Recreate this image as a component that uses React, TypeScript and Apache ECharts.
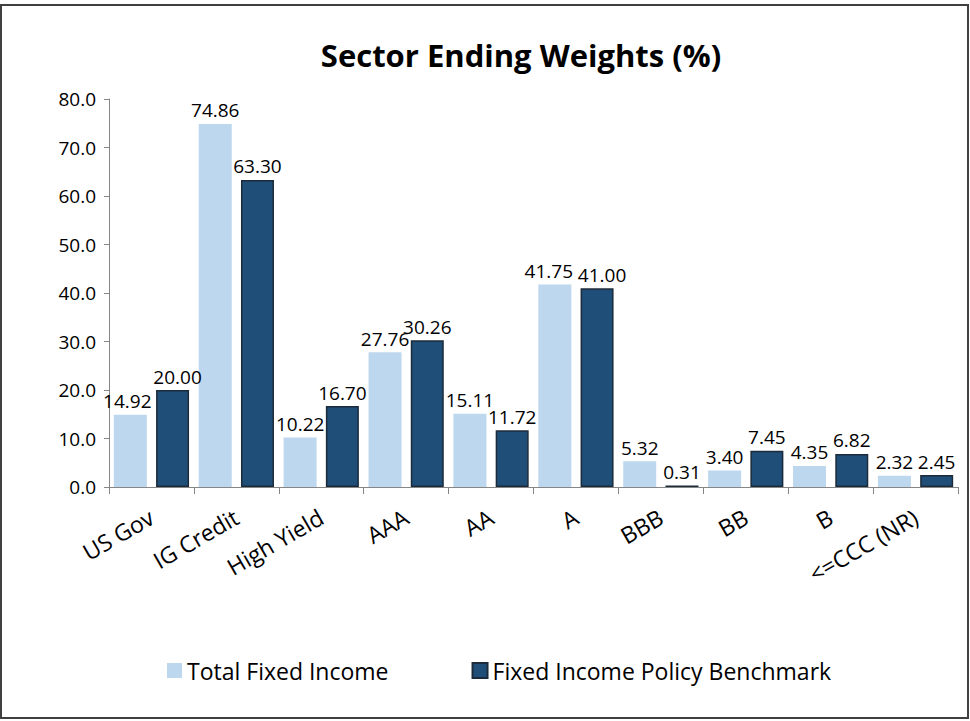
import React, { useEffect, useRef } from "react";
import * as echarts from "echarts";

const categories = ["US Gov", "IG Credit", "High Yield", "AAA", "AA", "A", "BBB", "BB", "B", "<=CCC (NR)"];
const totalFixedIncome = [14.92, 74.86, 10.22, 27.76, 15.11, 41.75, 5.32, 3.4, 4.35, 2.32];
const policyBenchmark = [20.0, 63.3, 16.7, 30.26, 11.72, 41.0, 0.31, 7.45, 6.82, 2.45];
const seriesNames = ["Total Fixed Income", "Fixed Income Policy Benchmark"];
const titleText = "Sector Ending Weights (%)";

const FONT = "'Open Sans', sans-serif";

// horizontal nudges of a few data labels (Excel pushes colliding labels apart)
const lightLabelShift: Record<number, number> = { 0: -3, 5: -6 };
const darkLabelShift: Record<number, number> = { 0: 5, 5: 5 };

function withShift(values: number[], shift: Record<number, number>) {
  return values.map((v, i) =>
    shift[i] !== undefined ? { value: v, label: { offset: [shift[i], 0] } } : v
  );
}

export default function App() {
  const ref = useRef<HTMLDivElement>(null);
  useEffect(() => {
    if (!ref.current) return;
    const chart = echarts.init(ref.current, null, { renderer: "svg" });
    const labelCfg = {
      show: true,
      position: "top",
      distance: 4,
      color: "#000",
      fontFamily: FONT,
      fontSize: 19,
      formatter: (p: any) => Number(p.value).toFixed(2),
    };
    chart.setOption({
      animation: false,
      backgroundColor: "#fff",
      title: {
        text: titleText,
        left: 516,
        top: 34,
        textAlign: "center",
        textStyle: { fontFamily: FONT, fontSize: 31, fontWeight: "bold", color: "#000" },
      },
      graphic: [
        {
          type: "rect",
          shape: { x: 1, y: 5, width: 967, height: 713 },
          style: { fill: "none", stroke: "#404040", lineWidth: 2 },
          silent: true,
        },
      ],
      legend: {
        left: 162,
        top: 654,
        itemWidth: 15,
        itemHeight: 15,
        itemGap: 83,
        icon: "rect",
        textStyle: { fontFamily: FONT, fontSize: 23, color: "#000" },
        data: seriesNames,
      },
      grid: { left: 109, right: 12, top: 99, bottom: 234, containLabel: false },
      xAxis: {
        type: "category",
        data: categories,
        axisLine: { lineStyle: { color: "#868686", width: 1 } },
        axisTick: { show: true, alignWithLabel: false, length: 7, lineStyle: { color: "#868686" } },
        axisLabel: {
          rotate: 30,
          margin: 28,
          interval: 0,
          color: "#000",
          fontFamily: FONT,
          fontSize: 23,
        },
      },
      yAxis: {
        type: "value",
        min: 0,
        max: 80,
        interval: 10,
        splitLine: { show: false },
        axisLine: { show: true, lineStyle: { color: "#868686", width: 1 } },
        axisTick: { show: true, length: 5, lineStyle: { color: "#868686" } },
        axisLabel: {
          margin: 13,
          color: "#000",
          fontFamily: FONT,
          fontSize: 19,
          formatter: (v: number) => v.toFixed(1),
        },
      },
      series: [
        {
          name: seriesNames[0],
          type: "bar",
          data: withShift(totalFixedIncome, lightLabelShift),
          barWidth: 33,
          barGap: "28%",
          itemStyle: { color: "#BDD7EE" },
          label: labelCfg,
        },
        {
          name: seriesNames[1],
          type: "bar",
          data: withShift(policyBenchmark, darkLabelShift),
          barWidth: 33,
          itemStyle: { color: "#1F4E79", borderColor: "#1c2b3a", borderWidth: 1.5 },
          label: labelCfg,
        },
      ],
    });
    return () => chart.dispose();
  }, []);
  return (
    <div
      ref={ref}
      style={{ position: "fixed", left: 0, top: 0, width: 970, height: 721 }}
    />
  );
}
